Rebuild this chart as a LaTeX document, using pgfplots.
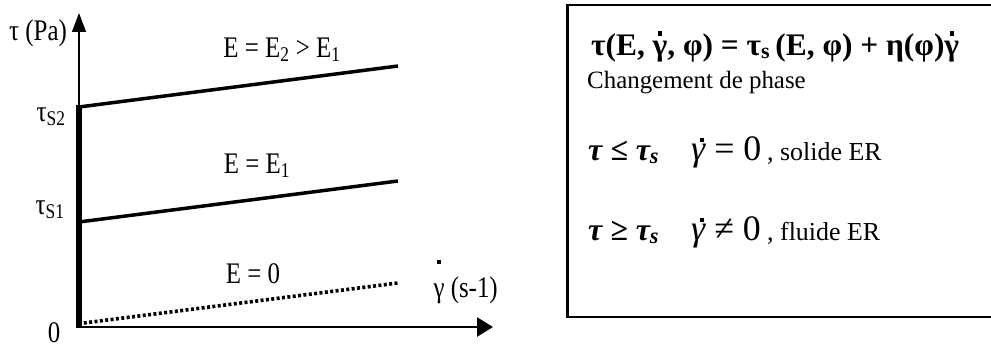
\documentclass[border=0pt]{standalone}
\usepackage{pgfplots}
\pgfplotsset{compat=1.18}
\usepackage{fontspec}
\setmainfont{Liberation Serif}
\usepackage{graphicx}
\usetikzlibrary{arrows.meta}
% letter with a dot above: #1 raise, #2 horizontal shift, #3 dot size, #4 letter
\newcommand\gdot[4]{{\ooalign{#4\cr\hidewidth\kern#2\raisebox{#1}{\rule{#3}{#3}}\hidewidth\cr}}}
\newcommand\pf{\fontsize{25}{28}\selectfont}
\newcommand\sy[1]{\scalebox{1}[1.2]{#1}}
\begin{document}
\begin{tikzpicture}[x=1bp,y=1bp]
\useasboundingbox (0,0) rectangle (991,349);
\begin{axis}[
  at={(79bp,22bp)}, anchor=south west,
  scale only axis, width=414bp, height=314bp,
  xmin=0, xmax=12.98, ymin=0, ymax=314,
  axis lines=left,
  x axis line style={line width=2.6bp, -{Triangle[length=16bp,width=19bp]}},
  y axis line style={line width=1.3bp, -{Triangle[length=19bp,width=14bp]}},
  xtick=\empty, ytick=\empty,
  clip=false,
]
% E = 0 (dotted)
\addplot[line width=3.6bp, dash pattern=on 3bp off 2.4bp] coordinates {(0.15,4) (10,44)};
% E = E1
\addplot[line width=3.5bp] coordinates {(0,105) (10,146)};
% E = E2 > E1
\addplot[line width=3.5bp] coordinates {(0,220) (10,261)};
% solid phase (vertical)
\addplot[line width=6bp] coordinates {(0,-1) (0,221.5)};
\end{axis}
% axis labels
\node[anchor=base, font=\pf] at (38,309) {\sy{τ (Pa)}};
\node[anchor=base east, font=\pf] at (69,228) {\sy{τ\textsubscript{S2}}};
\node[anchor=base east, font=\pf] at (68,135) {\sy{τ\textsubscript{S1}}};
\node[anchor=base, font=\pf, inner sep=0pt] at (54,7) {\sy{0}};
\node[anchor=base west, font=\pf] at (430,52) {\sy{\gdot{1.1em}{0pt}{0.13em}{γ} (s-1)}};
% curve labels
\node[anchor=base, font=\pf] at (282,292) {\sy{E = E\textsubscript{2} > E\textsubscript{1}}};
\node[anchor=base, font=\pf] at (257,176) {\sy{E = E\textsubscript{1}}};
\node[anchor=base, font=\pf] at (253,66) {\sy{E = 0}};
% right box
\draw[line width=2.4bp] (995,344) -- (567.5,344) -- (567.5,32) -- (995,32);
\node[anchor=base west, inner sep=0pt] at (591,294)
  {\fontsize{31.5}{34}\selectfont\bfseries τ(E, \gdot{0.62em}{0pt}{0.13em}{γ}, φ) = τ\textsubscript{s}\,(E, φ) + η(φ)\gdot{0.62em}{0pt}{0.13em}{γ}};
\node[anchor=base west, inner sep=0pt] at (587,261)
  {\fontsize{25}{28}\selectfont Changement de phase};
% row 3
\node[anchor=base west, inner sep=0pt] at (588,189)
  {\fontsize{32}{36}\selectfont\bfseries\itshape τ ≤ τ\textsubscript{s}};
\node[anchor=base west, inner sep=0pt] at (691,189)
  {\fontsize{36}{40}\selectfont{\itshape\gdot{0.5em}{0.2em}{0.1em}{γ}} = 0};
\node[anchor=base west, inner sep=0pt] at (767,189)
  {\fontsize{26}{30}\selectfont , solide ER};
% row 4
\node[anchor=base west, inner sep=0pt] at (588,109)
  {\fontsize{32}{36}\selectfont\bfseries\itshape τ ≥ τ\textsubscript{s}};
\node[anchor=base west, inner sep=0pt] at (691,109)
  {\fontsize{36}{40}\selectfont{\itshape\gdot{0.5em}{0.2em}{0.1em}{γ}} ≠ 0};
\node[anchor=base west, inner sep=0pt] at (767,109)
  {\fontsize{26}{30}\selectfont , fluide ER};
\end{tikzpicture}
\end{document}
